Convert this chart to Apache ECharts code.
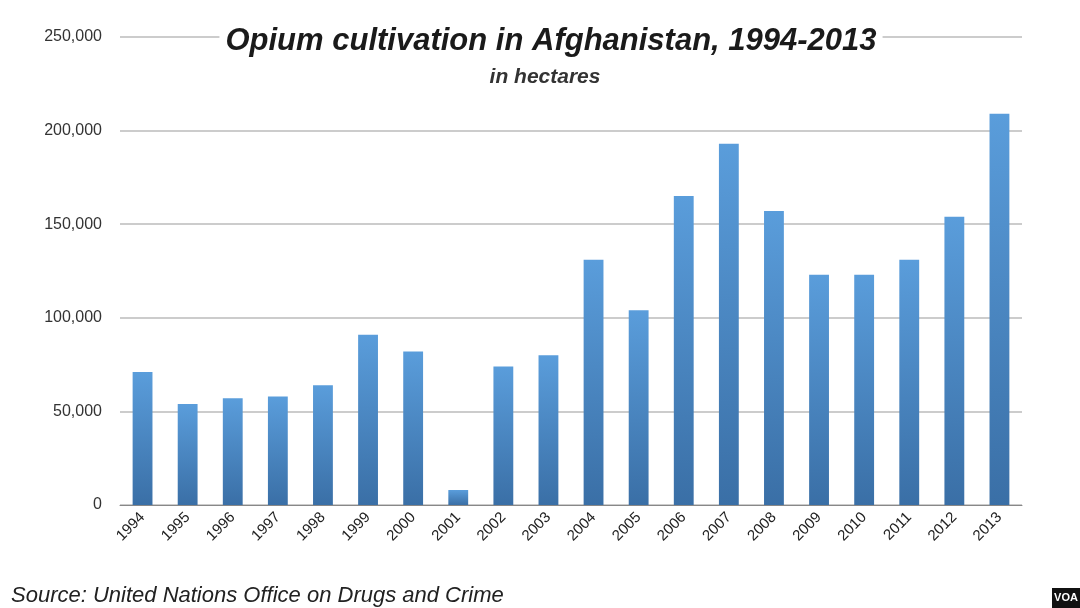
<!DOCTYPE html>
<html>
<head>
<meta charset="utf-8">
<script src="https://cdn.jsdelivr.net/npm/echarts@6/dist/echarts.min.js"></script>
<style>
  html, body { margin:0; padding:0; background:#fff; }
  #main { width:1080px; height:608px; }
</style>
</head>
<body>
<div id="main"></div>
<script>
var years = ['1994','1995','1996','1997','1998','1999','2000','2001','2002','2003',
             '2004','2005','2006','2007','2008','2009','2010','2011','2012','2013'];
var hectares = [71000,54000,57000,58000,64000,91000,82000,8000,74000,80000,
                131000,104000,165000,193000,157000,123000,123000,131000,154000,209000];
var yTicks = [0,50000,100000,150000,200000,250000];

var myChart = echarts.init(document.getElementById('main'));
var option = {
    animation: false,
    title: [
        {
            text: 'Opium cultivation in Afghanistan, 1994-2013',
            left: 545, top: 24, textAlign: 'center',
            backgroundColor: '#fff', padding: [2, 6],
            textStyle: { fontFamily: 'Liberation Sans', fontStyle: 'italic', fontWeight: 'bold', fontSize: 31, color: '#1a1a1a' }
        },
        {
            text: 'in hectares',
            left: 540, top: 62, textAlign: 'center',
            textStyle: { fontFamily: 'Liberation Sans', fontStyle: 'italic', fontWeight: 'bold', fontSize: 21, color: '#333' }
        },
        {
            text: 'Source: United Nations Office on Drugs and Crime',
            left: 6, top: 580,
            textStyle: { fontFamily: 'Liberation Sans', fontStyle: 'italic', fontWeight: 'normal', fontSize: 22, color: '#222' }
        }
    ],
    grid: { left: 120, right: 58, top: 37, bottom: 103 },
    xAxis: {
        type: 'category',
        data: years,
        axisLine: { lineStyle: { color: '#888' } },
        axisTick: { show: false },
        axisLabel: { rotate: 45, color: '#222', fontFamily: 'Liberation Sans', fontSize: 15, margin: 10 }
    },
    yAxis: {
        type: 'value',
        min: yTicks[0], max: yTicks[yTicks.length - 1], interval: 50000,
        axisLine: { show: false },
        axisTick: { show: false },
        splitLine: { lineStyle: { color: '#bbb', width: 1.5 } },
        axisLabel: {
            color: '#333', fontFamily: 'Liberation Sans', fontSize: 16, margin: 18,
            formatter: function (v) { return v.toLocaleString('en-US'); }
        }
    },
    series: [{
        type: 'bar',
        data: hectares,
        barWidth: '44%',
        itemStyle: {
            color: new echarts.graphic.LinearGradient(0, 0, 0, 1, [
                { offset: 0, color: '#5a9ddb' },
                { offset: 1, color: '#3a6fa6' }
            ])
        }
    }],
    graphic: [{
        type: 'group', left: 1052, top: 588,
        children: [
            { type: 'rect', shape: { x: 0, y: 0, width: 28, height: 20 }, style: { fill: '#111' } },
            { type: 'text', style: { x: 14, y: 10, text: 'VOA', fill: '#fff', font: 'bold 11px Liberation Sans', align: 'center', verticalAlign: 'middle' } }
        ]
    }]
};
myChart.setOption(option);
</script>
</body>
</html>
